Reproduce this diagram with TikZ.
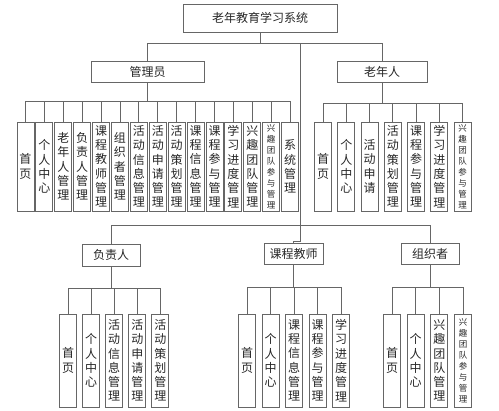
\documentclass[tikz,border=0pt]{standalone}
\usepackage{fontspec}
\setmainfont{Noto Sans CJK SC}
\XeTeXlinebreaklocale "zh"
\XeTeXlinebreakskip=0pt plus 1pt
\usetikzlibrary{calc}

\begin{document}
\begin{tikzpicture}[x=1pt,y=-1pt,
	box/.style={draw=black!60,line width=0.9pt,inner sep=0pt,font=\fontsize{12}{14}\selectfont,text=black!85},
	leaf/.style={box,minimum width=17pt,text width=13pt,align=center,font=\fontsize{12}{14.3}\selectfont},
	sleaf/.style={leaf,font=\fontsize{8.5}{11}\selectfont},
	link/.style={draw=black!60,line width=0.9pt}]
	\useasboundingbox (0,0) rectangle (499,411);
	% upper boxes
	\node[box,minimum width=154pt,minimum height=28pt] (root) at (260,18) {老年教育学习系统};
	\node[box,minimum width=113pt,minimum height=21pt] (admin) at (147.5,71.5) {管理员};
	\node[box,minimum width=90pt,minimum height=21pt] (elder) at (382,71.5) {老年人};
	% lower boxes
	\node[box,minimum width=58pt,minimum height=22pt] (leader) at (111,255) {负责人};
	\node[box,minimum width=59pt,minimum height=21pt] (teacher) at (293.5,253.5) {课程教师};
	\node[box,minimum width=58pt,minimum height=21pt] (organizer) at (430,253.5) {组织者};
	% leaves
	\foreach \t/\s [count=\i] in {首页/leaf,个人中心/leaf,老年人管理/leaf,负责人管理/leaf,课程教师管理/leaf,
		组织者管理/leaf,活动信息管理/leaf,活动申请管理/leaf,活动策划管理/leaf,课程信息管理/leaf,
		课程参与管理/leaf,学习进度管理/leaf,兴趣团队管理/leaf,兴趣团队参与管理/sleaf,系统管理/leaf}
		\node[\s,minimum height=89pt] (a\i) at ({25.5+18.9*(\i-1)},166.5) {\t};
	\foreach \t/\s [count=\i] in {首页/leaf,个人中心/leaf,活动申请/leaf,活动策划管理/leaf,
		课程参与管理/leaf,学习进度管理/leaf,兴趣团队参与管理/sleaf}
		\node[\s,minimum height=89pt] (e\i) at ({323+23.25*(\i-1)},166.5) {\t};
	\foreach \t [count=\i] in {首页,个人中心,活动信息管理,活动申请管理,活动策划管理}
		\node[leaf,minimum height=93pt] (l\i) at ({68+23.1*(\i-1)},360.5) {\t};
	\foreach \t [count=\i] in {首页,个人中心,课程信息管理,课程参与管理,学习进度管理}
		\node[leaf,minimum height=93pt] (t\i) at ({247+23.5*(\i-1)},360.5) {\t};
	\foreach \t/\s [count=\i] in {首页/leaf,个人中心/leaf,兴趣团队管理/leaf,兴趣团队参与管理/sleaf}
		\node[\s,minimum height=93pt] (o\i) at ({392+23.67*(\i-1)},360.5) {\t};
	% buses
	\coordinate (topbus) at (0,43);
	\coordinate (hub) at (300,43);
	\coordinate (midbus) at (0,225);
	\coordinate (abus) at (0,101);
	\coordinate (ebus) at (0,103);
	\coordinate (lbus) at (0,288);
	\coordinate (tbus) at (0,287);
	\coordinate (obus) at (0,287);
	% root level
	\draw[link] (root.south) -- (root.south |- topbus);
	\draw[link] (admin.north) |- (topbus -| elder.north) -- (elder.north);
	\draw[link] (hub) -- ++(0,198) -| (teacher.north);
	\draw[link] (leader.north) |- (midbus -| organizer.north) -- (organizer.north);
	% children
	\draw[link] (admin.south) -- (admin.south |- abus);
	\draw[link] (a1.north |- abus) -- (a15.north |- abus);
	\foreach \i in {1,...,15} \draw[link] (a\i.north) -- (a\i.north |- abus);
	\draw[link] (elder.south) -- (elder.south |- ebus);
	\draw[link] (e1.north |- ebus) -- (e7.north |- ebus);
	\foreach \i in {1,...,7} \draw[link] (e\i.north) -- (e\i.north |- ebus);
	\draw[link] (leader.south) -- (leader.south |- lbus);
	\draw[link] (l1.north |- lbus) -- (l5.north |- lbus);
	\foreach \i in {1,...,5} \draw[link] (l\i.north) -- (l\i.north |- lbus);
	\draw[link] (teacher.south) -- (teacher.south |- tbus);
	\draw[link] (t1.north |- tbus) -- (t5.north |- tbus);
	\foreach \i in {1,...,5} \draw[link] (t\i.north) -- (t\i.north |- tbus);
	\draw[link] (organizer.south) -- (organizer.south |- obus);
	\draw[link] (o1.north |- obus) -- (o4.north |- obus);
	\foreach \i in {1,...,4} \draw[link] (o\i.north) -- (o\i.north |- obus);
\end{tikzpicture}
\end{document}
